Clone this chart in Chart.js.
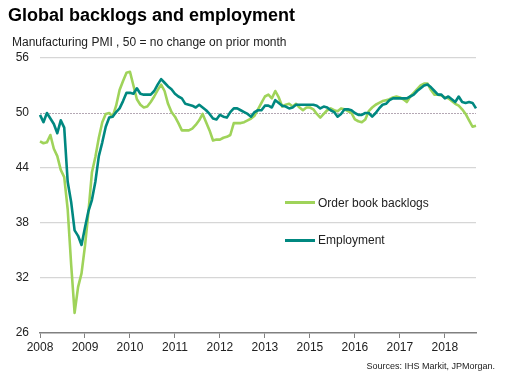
<!DOCTYPE html>
<html>
<head>
<meta charset="utf-8">
<script src="https://cdn.jsdelivr.net/npm/chart.js@4.4.1/dist/chart.umd.min.js"></script>
<style>
  body { margin: 0; background: #fff; font-family: "Liberation Sans", Arial, sans-serif; }
  #wrap { position: relative; width: 512px; height: 387px; overflow: hidden; }
  #chart { position: absolute; left: 0; top: 0; }
  .txt { position: absolute; white-space: nowrap; color: #1a1a1a; }
  #title { left: 8px; top: 6px; font-size: 18px; line-height: 18px; font-weight: bold; color: #000; }
  #subtitle { left: 12px; top: 36px; font-size: 12px; line-height: 12px; color: #222; }
  #source { right: 17px; top: 362px; font-size: 9px; line-height: 9px; color: #222; }
  .leg { font-size: 12px; line-height: 12px; color: #222; }
  .swatch { position: absolute; height: 3px; width: 30px; }
</style>
</head>
<body>
<div id="wrap">
  <canvas id="chart" width="512" height="387"></canvas>
  <div class="txt" id="title">Global backlogs and employment</div>
  <div class="txt" id="subtitle">Manufacturing PMI , 50 = no change on prior month</div>
  <div class="swatch" style="left:285px; top:201px; background:#9fd35a;"></div>
  <div class="txt leg" style="left:318px; top:197px;">Order book backlogs</div>
  <div class="swatch" style="left:285px; top:239px; background:#008880;"></div>
  <div class="txt leg" style="left:318px; top:234px;">Employment</div>
  <div class="txt" id="source">Sources: IHS Markit, JPMorgan.</div>
</div>
<script>
// Year labels as printed on the axis (one every 13 months, 2014 is missing in the original)
const tickLabels = ['2008', '2009', '2010', '2011', '2012', '2013', '2015', '2016', '2017', '2018'];
const monthsPerTick = 13;

// Monthly readings, Jan 2008 onwards
const employment = [
  49.8, 49.0, 50.0, 49.4, 48.8, 47.8, 49.2, 48.4, 42.5, 40.3,
  37.2, 36.6, 35.6, 37.5, 39.3, 40.5, 42.5, 45.3, 46.8, 48.5,
  49.5, 49.6, 50.1, 50.5, 51.3, 52.2, 52.2, 52.1, 52.7, 52.1,
  52.0, 52.0, 52.0, 52.4, 53.1, 53.7, 53.3, 52.9, 52.6, 52.1,
  51.8, 51.6, 51.0, 50.9, 50.8, 50.6, 50.9, 50.6, 50.3, 49.9,
  49.4, 49.3, 49.8, 49.6, 49.5, 50.1, 50.5, 50.5, 50.3, 50.1,
  49.9, 49.6, 50.1, 50.3, 50.3, 50.8, 50.8, 50.6, 51.4, 51.1,
  50.8, 50.7, 50.5, 50.6, 50.9, 50.9, 50.9, 50.9, 50.9, 50.9,
  50.8, 50.5, 50.7, 50.6, 50.3, 50.1, 49.6, 49.9, 50.4, 50.4,
  50.3, 50.0, 49.8, 49.8, 50.0, 50.0, 49.6, 50.0, 50.5, 50.9,
  51.0, 51.4, 51.6, 51.6, 51.6, 51.6, 51.6, 51.8, 52.0, 52.4,
  52.7, 53.0, 53.1, 52.8, 52.4, 52.0, 52.0, 51.6, 51.8, 51.5,
  51.2, 51.8, 51.2, 51.1, 51.2, 51.1, 50.5
];

const backlogs = [
  46.9, 46.7, 46.8, 47.6, 46.1, 45.3, 43.8, 43.0, 39.5, 33.5,
  28.2, 31.0, 32.5, 35.5, 39.2, 43.5, 45.2, 47.3, 49.0, 49.9,
  50.0, 49.6, 50.8, 52.5, 53.5, 54.4, 54.5, 53.0, 51.5, 50.9,
  50.6, 50.7, 51.2, 51.8, 52.5, 53.1, 52.4, 51.0, 50.1, 49.6,
  48.9, 48.1, 48.1, 48.1, 48.3, 48.7, 49.2, 49.9, 49.0, 48.1,
  47.0, 47.1, 47.1, 47.3, 47.4, 47.6, 48.9, 48.9, 48.9, 49.0,
  49.2, 49.4, 49.7, 50.4, 51.1, 51.8, 52.0, 51.6, 52.4, 51.7,
  50.7, 50.9, 51.0, 50.7, 51.0, 50.6, 50.3, 50.6, 50.6, 50.4,
  49.9, 49.5, 49.9, 50.3, 50.5, 50.3, 50.2, 50.5, 50.4, 50.2,
  50.0, 49.3, 49.1, 49.0, 49.3, 50.2, 50.6, 50.9, 51.1, 51.3,
  51.4, 51.5, 51.7, 51.8, 51.7, 51.5, 51.2, 51.8, 52.2, 52.6,
  53.0, 53.2, 53.2, 52.5, 52.0, 52.0, 51.9, 51.7, 51.6, 51.3,
  51.0, 50.8, 50.4, 49.9, 49.2, 48.5, 48.6
];

const yTicks = [26, 32, 38, 44, 50, 56];

// one category per month, year text only where a tick label goes
const labels = employment.map((v, i) =>
  i % monthsPerTick === 0 ? (tickLabels[i / monthsPerTick] || '') : ''
);

// dotted reference line at 50
const fiftyLine = {
  id: 'fiftyLine',
  beforeDatasetsDraw(chart) {
    const { ctx, chartArea, scales } = chart;
    const y = Math.round(scales.y.getPixelForValue(50)) + 0.5;
    ctx.save();
    ctx.strokeStyle = '#b4a8b4';
    ctx.lineWidth = 1;
    ctx.setLineDash([2, 1]);
    ctx.beginPath();
    ctx.moveTo(chartArea.left, y);
    ctx.lineTo(chartArea.right, y);
    ctx.stroke();
    ctx.restore();
  }
};

const ctx = document.getElementById('chart').getContext('2d');
new Chart(ctx, {
  type: 'line',
  data: {
    labels: labels,
    datasets: [
      {
        label: 'Employment',
        data: employment,
        borderColor: '#008880',
        borderWidth: 2.6,
        borderJoinStyle: 'round',
        pointRadius: 0,
        tension: 0
      },
      {
        label: 'Order book backlogs',
        data: backlogs,
        borderColor: '#9fd35a',
        borderWidth: 2.6,
        borderJoinStyle: 'round',
        pointRadius: 0,
        tension: 0
      }
    ]
  },
  options: {
    responsive: false,
    animation: false,
    layout: { padding: { top: 58, right: 36, left: 0, bottom: 0 } },
    plugins: {
      legend: { display: false },
      tooltip: { enabled: false }
    },
    scales: {
      x: {
        type: 'category',
        afterFit: (scale) => { scale.height = 54; },
        border: { display: true, color: '#808080', width: 1.5 },
        grid: {
          drawOnChartArea: false,
          drawTicks: true,
          tickLength: 5,
          color: (c) => (labels[c.index] ? '#808080' : 'rgba(0,0,0,0)')
        },
        ticks: {
          autoSkip: false,
          maxRotation: 0,
          minRotation: 0,
          padding: 2,
          color: '#222',
          font: { family: 'Liberation Sans', size: 12 },
          callback: function (value) { return this.getLabelForValue(value); }
        }
      },
      y: {
        min: 26,
        max: 56,
        afterFit: (scale) => { scale.width = 40; },
        afterBuildTicks: (scale) => { scale.ticks = yTicks.map(v => ({ value: v })); },
        border: { display: false },
        grid: {
          drawTicks: false,
          lineWidth: 1.2,
          color: (c) => (c.tick && (c.tick.value === 50 || c.tick.value === 26) ? 'rgba(0,0,0,0)' : '#d6d6d6')
        },
        ticks: {
          padding: 11,
          color: '#222',
          font: { family: 'Liberation Sans', size: 12 }
        }
      }
    }
  },
  plugins: [fiftyLine]
});
</script>
</body>
</html>
